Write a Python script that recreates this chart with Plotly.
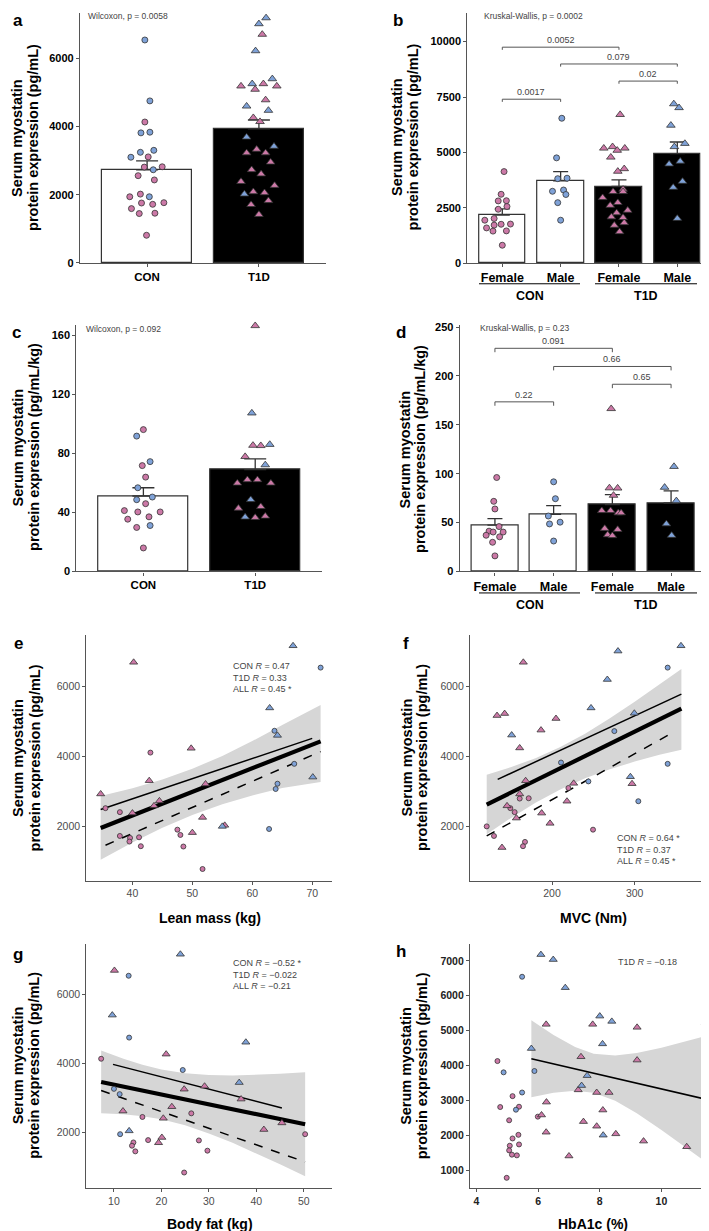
import plotly.graph_objects as go

W, H = 709, 1231
FONT = "Liberation Sans, Arial, sans-serif"
PINK = "#CC79A7"
BLUE = "#7FA2D8"
EDGE = "#333333"
AXIS = "#555555"

# ---------------- panels a / b : serum myostatin (pg/mL)
con_f = [4135, 3111, 2821, 2812, 2560, 2435, 2019, 1942, 1768, 1758, 1720, 1594, 1459, 1449, 812]
con_m = [6541, 4754, 3836, 3816, 3304, 3246, 3101, 2734, 1942]
t1d_f = [6705, 5256, 5188, 5188, 5092, 4783, 4261, 4145, 3333, 3227, 3227, 2957, 2734, 2609, 2387, 2271, 2087, 2058, 1826, 1710, 1420]
t1d_m = [7189, 7015, 6222, 5401, 5256, 4599, 4474, 3691, 3420, 2019]

# jitter offsets (category units)
a_jit_con_f = [-0.02, 0.01, 0.135, -0.025, -0.08, 0.065, -0.06, -0.155, 0.15, -0.05, 0.05, -0.14, 0.07, -0.07, -0.005]
a_jit_con_m = [-0.02, 0.025, 0.025, -0.055, 0.06, -0.06, -0.145, 0.055, 0.02]
a_jit_t1d_f = [0.03, 0.04, -0.16, 0.16, -0.034, 0.06, -0.05, 0.01, -0.02, -0.11, 0.06, 0.105, -0.065, 0.02, -0.16, 0.14, -0.05, 0.05, 0.085, -0.07, 0.0]
a_jit_t1d_m = [0.064, 0.0, -0.03, 0.12, -0.06, -0.11, 0.085, -0.11, 0.135, -0.13]
b_jit_con_f = [0.03, -0.02, 0.07, -0.07, 0.08, -0.07, -0.14, -0.3, 0.14, -0.02, -0.14, -0.27, 0.07, -0.16, 0.0]
b_jit_con_m = [0.02, -0.07, 0.11, -0.05, 0.05, -0.14, 0.09, -0.05, 0.0]
b_jit_t1d_f = [0.02, -0.11, -0.26, 0.1, -0.03, -0.14, 0.09, -0.02, 0.07, -0.1, 0.07, -0.28, -0.02, -0.15, 0.15, -0.04, -0.13, 0.07, 0.09, -0.08, 0.01]
b_jit_t1d_m = [-0.06, 0.03, -0.11, 0.13, -0.05, 0.05, -0.14, 0.09, -0.07, 0.0]

a_means = [2733, 3933]
a_se = [261, 261]
b_means = [2170, 3715, 3462, 4948]
b_se = [282, 416, 298, 521]
b_brackets = [(1, 2, 7400, "0.0017"), (1, 3, 9748, "0.0052"), (2, 4, 8990, "0.079"), (3, 4, 8218, "0.02")]

# ---------------- panels c / d : serum myostatin per kg (pg/mL/kg)
con_f_kg = [96.1, 71.7, 63.9, 45.9, 41.2, 40.3, 40.3, 37.0, 35.4, 29.8, 15.9]
con_m_kg = [91.7, 74.4, 56.7, 50.4, 48.6, 31.1]
t1d_f_kg = [166.5, 85.4, 85.2, 77.8, 62.1, 62.1, 59.8, 59.8, 43.9, 42.8, 37.4, 36.5]
t1d_m_kg = [107.3, 86.0, 72.2, 48.6, 36.8]

c_jit_con_f = [0.0, -0.01, 0.02, 0.02, -0.17, -0.05, 0.15, 0.05, -0.14, -0.06, 0.0]
c_jit_con_m = [-0.06, 0.06, -0.05, 0.08, -0.06, 0.06]
c_jit_t1d_f = [0.0, -0.02, 0.05, -0.09, -0.07, 0.02, -0.16, 0.14, 0.05, -0.15, 0.09, 0.0]
c_jit_t1d_m = [-0.03, 0.13, 0.09, -0.04, -0.09]
d_jit_con_f = [0.03, -0.02, 0.0, 0.07, -0.1, 0.14, -0.03, -0.15, 0.08, -0.04, 0.0]
d_jit_con_m = [0.0, 0.03, -0.09, 0.11, -0.07, 0.0]
d_jit_t1d_f = [-0.02, -0.05, 0.09, 0.02, -0.18, -0.03, 0.1, 0.15, -0.13, 0.09, -0.08, 0.0]
d_jit_t1d_m = [0.05, -0.11, 0.09, -0.08, 0.01]

c_means = [51.1, 69.0]
c_se = [5.6, 7.2]
d_means = [47.4, 58.5, 68.3, 70.0]
d_se = [6.7, 8.8, 10.2, 12.5]
d_brackets = [(1, 2, 173.5, "0.22"), (1, 3, 228.3, "0.091"), (2, 4, 209.7, "0.66"), (3, 4, 191.5, "0.65")]

# ---------------- panel e : lean mass
e_t1d_m_x = [66.8, 62.9, 64.2, 70.1, 55.0]
e_t1d_m_y = [7172, 5395, 4610, 3418, 2009]
e_t1d_f_x = [40.2, 49.8, 42.8, 52.2, 34.7, 44.5, 43.6, 40.0, 51.7, 55.4, 50.0]
e_t1d_f_y = [6700, 4241, 3315, 3220, 2936, 2738, 2596, 2388, 2265, 2038, 1830]
e_con_m_x = [71.4, 63.7, 67.0, 64.2, 63.9, 62.8]
e_con_m_y = [6548, 4742, 3797, 3229, 3078, 1934]
e_con_f_x = [35.5, 37.9, 43.0, 37.9, 39.6, 39.5, 41.1, 41.4, 47.5, 48.0, 48.5, 51.7]
e_con_f_y = [2530, 2416, 4118, 1735, 1679, 1575, 1697, 1442, 1915, 1764, 1433, 790]
e_all_x, e_all_y = [34.7, 71.4], [1962, 4440]
e_t1d_x, e_t1d_y = [34.7, 70.0], [2492, 4525]
e_con_x, e_con_y = [35.5, 71.4], [1470, 4147]
e_band_x = [34.7, 40, 45, 50, 55, 60, 65, 71.4]
e_band_hi = [2877, 3099, 3350, 3655, 4024, 4447, 4911, 5480]
e_band_lo = [1053, 1545, 1968, 2337, 2642, 2893, 3103, 3280]

# ---------------- panel f : MVC
f_t1d_m_x = [356.0, 279.8, 266.9, 247.2, 299.6, 151.2, 294.8]
f_t1d_m_y = [7172, 7021, 6208, 5395, 5243, 4619, 3428]
f_t1d_f_x = [165.3, 133.5, 142.7, 204.8, 186.7, 160.9, 168.1, 296.8, 226.2, 160.9, 145.6, 218.1, 187.5, 156.9, 197.6, 139.5]
f_t1d_f_y = [6700, 5177, 5234, 5092, 4761, 4251, 3314, 3229, 3239, 2936, 2596, 2728, 2388, 2246, 2095, 1404]
f_con_m_x = [339.9, 275.4, 210.9, 339.9, 244.0, 304.4]
f_con_m_y = [6548, 4733, 3834, 3797, 3295, 2728]
f_con_f_x = [160.9, 171.8, 219.8, 149.6, 154.8, 121.0, 129.8, 167.3, 164.9, 249.6]
f_con_f_y = [2804, 2813, 3106, 2530, 2416, 2009, 1735, 1565, 1442, 1915]
f_all_x, f_all_y = [121.0, 356.5], [2634, 5376]
f_t1d_x, f_t1d_y = [134.3, 356.5], [3352, 5792]
f_con_x, f_con_y = [121.0, 340.7], [1735, 4619]
f_band_x = [121, 150, 180, 210, 240, 270, 300, 330, 356.5]
f_band_hi = [3486, 3700, 3959, 4275, 4658, 5097, 5575, 6077, 6510]
f_band_lo = [1782, 2244, 2683, 3065, 3382, 3641, 3861, 4057, 4200]

# ---------------- panel g : body fat
g_t1d_m_x = [24.0, 9.65, 37.8, 36.4, 13.2]
g_t1d_m_y = [7173, 5404, 4615, 3442, 2038]
g_t1d_f_x = [10.1, 21.0, 24.8, 29.1, 36.8, 22.2, 11.9, 20.4, 20.1, 19.4, 41.6, 45.4]
g_t1d_f_y = [6702, 4269, 3250, 3336, 2962, 2740, 2615, 2404, 1846, 1692, 2077, 2269]
g_con_m_x = [13.1, 13.2, 24.5, 10.0, 11.2, 11.3]
g_con_m_y = [6548, 4750, 3808, 3260, 3106, 1942]
g_con_f_x = [7.3, 16.0, 26.3, 14.1, 17.2, 13.8, 14.5, 27.9, 29.7, 24.8, 50.3]
g_con_f_y = [4135, 2442, 2548, 1702, 1769, 1606, 1442, 1760, 1462, 827, 1942]
g_all_x, g_all_y = [7.3, 50.3], [3461, 2231]
g_t1d_x, g_t1d_y = [9.8, 45.4], [3971, 2702]
g_con_x, g_con_y = [7.3, 50.3], [3211, 1135]
g_band_x = [7.3, 12, 16, 20, 25, 30, 35, 40, 45, 50.3]
g_band_hi = [4375, 4132, 3958, 3823, 3712, 3659, 3648, 3664, 3697, 3745]
g_band_lo = [2547, 2521, 2466, 2373, 2198, 1965, 1690, 1388, 1069, 717]

# ---------------- panel h : HbA1c
h_t1d_m_x = [6.09, 6.49, 6.88, 8.0, 8.39, 8.09, 5.78, 7.59, 7.41, 8.11]
h_t1d_m_y = [7178, 7036, 6232, 5418, 5267, 4624, 4491, 3715, 3431, 2012]
h_t1d_f_x = [6.26, 7.77, 9.21, 11.42, 7.39, 9.21, 7.30, 7.90, 8.30, 6.27, 8.10, 6.11, 7.47, 7.90, 6.26, 8.52, 9.42, 10.82, 7.0]
h_t1d_f_y = [5182, 5182, 5097, 5239, 4255, 4160, 3308, 3233, 3233, 2958, 2731, 2589, 2400, 2268, 2097, 2050, 1842, 1681, 1416]
h_con_m_x = [5.48, 4.88, 5.88, 5.48, 5.28]
h_con_m_y = [6544, 3810, 3848, 3233, 2741]
h_con_f_x = [4.68, 5.17, 4.77, 5.38, 5.99, 5.06, 5.36, 5.17, 5.08, 5.38, 5.06, 5.15, 5.31, 4.98]
h_con_f_y = [4132, 3129, 2817, 2826, 2542, 2438, 2022, 1918, 1710, 1747, 1577, 1454, 1435, 792]
h_t1d_x, h_t1d_y = [5.78, 11.42], [4198, 3044]
h_band_x = [5.78, 6.5, 7.2, 7.8, 8.5, 9.2, 10, 10.7, 11.42]
h_band_hi = [5300, 4878, 4532, 4341, 4289, 4362, 4511, 4667, 4845]
h_band_lo = [3096, 3224, 3284, 3229, 2995, 2636, 2159, 1717, 1260]


def px(x):
    return x / W


def py(y):
    return 1 - y / H


def names(n):
    s = "" if n == 1 else str(n)
    return "x" + s, "y" + s


fig = go.Figure()


def set_axes(n, xdom, ydom, xr, yr, xtv, ytv, xtt=None, xfont=None, yfont=None):
    xs, ys = names(n)
    base = dict(showline=True, linecolor=AXIS, linewidth=1.2, ticks="outside", ticklen=3,
                tickcolor=AXIS, tickwidth=1, showgrid=False, zeroline=False)
    fig.update_layout({
        "xaxis" + xs[1:]: dict(base, domain=[px(xdom[0]), px(xdom[1])], range=xr, anchor=ys,
                               tickmode="array", tickvals=xtv,
                               ticktext=xtt if xtt else [str(v) for v in xtv], tickfont=xfont),
        "yaxis" + ys[1:]: dict(base, domain=[py(ydom[1]), py(ydom[0])], range=yr, anchor=xs,
                               tickmode="array", tickvals=ytv, ticktext=[str(v) for v in ytv],
                               tickfont=yfont),
    })


def bars(n, means, ses, fills, cap):
    xs, ys = names(n)
    fig.add_trace(go.Bar(
        x=list(range(1, len(means) + 1)), y=means, width=0.8,
        marker=dict(color=fills, line=dict(color=EDGE, width=1.2)),
        error_y=dict(type="data", symmetric=False, array=ses, arrayminus=[0] * len(ses),
                     color=EDGE, thickness=1.3, width=cap),
        xaxis=xs, yaxis=ys, showlegend=False, hoverinfo="skip"))


def dots(n, xv, yv, color, symbol, size):
    xs, ys = names(n)
    fig.add_trace(go.Scatter(
        x=xv, y=yv, mode="markers", cliponaxis=False,
        marker=dict(color=color, symbol=symbol, size=size, line=dict(color=EDGE, width=0.8)),
        xaxis=xs, yaxis=ys, showlegend=False, hoverinfo="skip"))


def jit(cat, offsets):
    return [cat + o for o in offsets]


def line(n, xv, yv, width, dash="solid"):
    xs, ys = names(n)
    fig.add_trace(go.Scatter(x=xv, y=yv, mode="lines", line=dict(color="black", width=width, dash=dash),
                             xaxis=xs, yaxis=ys, showlegend=False, hoverinfo="skip"))


def band(n, xv, hi, lo):
    xs, ys = names(n)
    fig.add_trace(go.Scatter(x=xv + xv[::-1], y=hi + lo[::-1], mode="lines", fill="toself",
                             fillcolor="#D6D6D6", line=dict(width=0),
                             xaxis=xs, yaxis=ys, showlegend=False, hoverinfo="skip"))


bold_tick = dict(family=FONT, size=11, color="black", weight="bold")
bold_cat = dict(family=FONT, size=12.5, color="black", weight="bold")
reg = dict(family=FONT, size=10.5, color="#4D4D4D")
boldh = dict(family=FONT, size=10.5, color="#222222", weight="bold")

CS, TS = 6, 7.5      # bar-panel marker sizes
CS2, TS2 = 5, 7      # scatter-panel marker sizes

# ---- a
bars(1, a_means, a_se, ["white", "black"], 11)
dots(1, jit(1, a_jit_con_f), con_f, PINK, "circle", CS)
dots(1, jit(1, a_jit_con_m), con_m, BLUE, "circle", CS)
dots(1, jit(2, a_jit_t1d_f), t1d_f, PINK, "triangle-up", TS)
dots(1, jit(2, a_jit_t1d_m), t1d_m, BLUE, "triangle-up", TS)
set_axes(1, (72, 318), (1, 253), [0.4, 2.6], [0, 7333], [1, 2], [0, 2000, 4000, 6000],
         ["CON", "T1D"], dict(bold_tick, size=11.5), bold_tick)

# ---- b
bars(2, b_means, b_se, ["white", "white", "black", "black"], 7.5)
dots(2, jit(1, b_jit_con_f), con_f, PINK, "circle", CS)
dots(2, jit(2, b_jit_con_m), con_m, BLUE, "circle", CS)
dots(2, jit(3, b_jit_t1d_f), t1d_f, PINK, "triangle-up", TS)
dots(2, jit(4, b_jit_t1d_m), t1d_m, BLUE, "triangle-up", TS)
set_axes(2, (459.3, 704.3), (1, 253.3), [0.4, 4.6], [0, 11290], [1, 2, 3, 4],
         [0, 2500, 5000, 7500, 10000], ["Female", "Male", "Female", "Male"], bold_cat, bold_tick)

# ---- c
bars(3, c_means, c_se, ["white", "black"], 11)
dots(3, jit(1, c_jit_con_f), con_f_kg, PINK, "circle", CS)
dots(3, jit(1, c_jit_con_m), con_m_kg, BLUE, "circle", CS)
dots(3, jit(2, c_jit_t1d_f), t1d_f_kg, PINK, "triangle-up", TS)
dots(3, jit(2, c_jit_t1d_m), t1d_m_kg, BLUE, "triangle-up", TS)
set_axes(3, (68.3, 314.3), (316, 564), [0.4, 2.6], [0, 166.7], [1, 2], [0, 40, 80, 120, 160],
         ["CON", "T1D"], dict(bold_tick, size=11.5), bold_tick)

# ---- d
bars(4, d_means, d_se, ["white", "white", "black", "black"], 7.5)
dots(4, jit(1, d_jit_con_f), con_f_kg, PINK, "circle", CS)
dots(4, jit(2, d_jit_con_m), con_m_kg, BLUE, "circle", CS)
dots(4, jit(3, d_jit_t1d_f), t1d_f_kg, PINK, "triangle-up", TS)
dots(4, jit(4, d_jit_t1d_m), t1d_m_kg, BLUE, "triangle-up", TS)
set_axes(4, (451.7, 698.3), (316, 564), [0.4, 4.6], [0, 251.7], [1, 2, 3, 4],
         [0, 50, 100, 150, 200, 250], ["Female", "Male", "Female", "Male"], bold_cat, bold_tick)

# ---- e..h scatter panels
scatter_panels = [
    (5, e_band_x, e_band_hi, e_band_lo, [(e_all_x, e_all_y, 4.2, "solid"), (e_t1d_x, e_t1d_y, 1.5, "solid"), (e_con_x, e_con_y, 1.5, "dash")],
     (e_con_f_x, e_con_f_y), (e_con_m_x, e_con_m_y), (e_t1d_f_x, e_t1d_f_y), (e_t1d_m_x, e_t1d_m_y)),
    (6, f_band_x, f_band_hi, f_band_lo, [(f_all_x, f_all_y, 4.2, "solid"), (f_t1d_x, f_t1d_y, 1.5, "solid"), (f_con_x, f_con_y, 1.5, "dash")],
     (f_con_f_x, f_con_f_y), (f_con_m_x, f_con_m_y), (f_t1d_f_x, f_t1d_f_y), (f_t1d_m_x, f_t1d_m_y)),
    (7, g_band_x, g_band_hi, g_band_lo, [(g_all_x, g_all_y, 4.2, "solid"), (g_t1d_x, g_t1d_y, 1.5, "solid"), (g_con_x, g_con_y, 1.5, "dash")],
     (g_con_f_x, g_con_f_y), (g_con_m_x, g_con_m_y), (g_t1d_f_x, g_t1d_f_y), (g_t1d_m_x, g_t1d_m_y)),
    (8, h_band_x, h_band_hi, h_band_lo, [(h_t1d_x, h_t1d_y, 1.5, "solid")],
     (h_con_f_x, h_con_f_y), (h_con_m_x, h_con_m_y), (h_t1d_f_x, h_t1d_f_y), (h_t1d_m_x, h_t1d_m_y)),
]
for n, bx, bhi, blo, fits, cf, cm, tf, tm in scatter_panels:
    band(n, bx, bhi, blo)
    for lx, ly, lw, ld in fits:
        line(n, lx, ly, lw, ld)
    dots(n, cf[0], cf[1], PINK, "circle", CS2)
    dots(n, cm[0], cm[1], BLUE, "circle", CS2)
    dots(n, tf[0], tf[1], PINK, "triangle-up", TS2)
    dots(n, tm[0], tm[1], BLUE, "triangle-up", TS2)

set_axes(5, (78.3, 324), (628.3, 875.7), [32.3, 73.3], [459, 7475], [40, 50, 60, 70], [2000, 4000, 6000],
         None, reg, reg)
set_axes(6, (462, 707.7), (628.3, 875.7), [100.8, 398], [459, 7475], [200, 300], [2000, 4000, 6000],
         None, reg, reg)
set_axes(7, (78.3, 324), (940, 1185.7), [4.17, 55.96], [375, 7461], [10, 20, 30, 40, 50], [2000, 4000, 6000],
         None, reg, reg)
set_axes(8, (462, 707.7), (940, 1185.7), [3.79, 11.76], [499, 7471], [4, 6, 8, 10],
         [1000, 2000, 3000, 4000, 5000, 6000, 7000], None, boldh, boldh)

# ---- annotations and shapes
ann = []
shapes = []


def text(x, y, s, size, color="black", xanchor="center", yanchor="middle", angle=0, xref="paper", yref="paper", bold=False):
    ann.append(dict(x=x, y=y, xref=xref, yref=yref, text=s, showarrow=False, textangle=angle,
                    xanchor=xanchor, yanchor=yanchor, align="left",
                    font=dict(family=FONT, size=size, color=color, weight="bold" if bold else "normal")))


# y titles: two rotated lines each (tight ggplot line spacing)
unit_plain = "protein expression (pg/mL)"
unit_kg = "protein expression (pg/mL/kg)"
for x1, x2, cy, s in [(9, 25, 127, unit_plain), (389, 404.5, 126, unit_plain),
                      (10, 26.5, 439, unit_kg), (397, 412.5, 441, unit_kg),
                      (10, 26.5, 752, unit_plain), (398.5, 414, 752, unit_plain),
                      (10, 26.5, 1062, unit_plain), (398.5, 414, 1063, unit_plain)]:
    text(px(x1), py(cy), "Serum myostatin", 14.5, bold=True, angle=-90)
    text(px(x2), py(cy), s, 14.5, bold=True, angle=-90)

for lx, ly, s in [(10, 9, "a"), (390, 9, "b"), (8, 323, "c"), (393, 323, "d"),
                  (10, 637, "e"), (398, 637, "f"), (10, 950, "g"), (393, 947, "h")]:
    text(px(lx), py(ly), s, 17, bold=True)

for lx, ly, s in [(78, 4, "Wilcoxon, p = 0.0058"), (474, 4, "Kruskal-Wallis, p = 0.0002"),
                  (76, 320, "Wilcoxon, p = 0.092"), (470, 319, "Kruskal-Wallis, p = 0.23")]:
    text(px(lx), py(ly), s, 8.5, "#444444", xanchor="left")

for cx, cy, s in [(201.7, 913, "Lean mass (kg)"), (585, 913, "MVC (Nm)"),
                  (201.7, 1222, "Body fat (kg)"), (585, 1222, "HbA1c (%)")]:
    text(px(cx), py(cy), s, 14, bold=True)

R = "<i>R</i>"
text(px(223), py(652), f"CON {R} = 0.47<br>T1D {R} = 0.33<br>ALL {R} = 0.45 *", 9, "#444444", "left", "top")
text(px(607), py(826), f"CON {R} = 0.64 *<br>T1D {R} = 0.37<br>ALL {R} = 0.45 *", 9, "#444444", "left", "top")
text(px(223), py(952), f"CON {R} = \u22120.52 *<br>T1D {R} = \u22120.022<br>ALL {R} = \u22120.21", 9, "#444444", "left", "top")
text(px(608), py(958), f"T1D {R} = \u22120.18", 9, "#444444", "left", "middle")

# sex / group labels under b and d
for y_line, y_lab in [(274, 286), (585.7, 597.7)]:
    for x0, x1, s in [(471, 572, "CON"), (587, 689, "T1D")]:
        shapes.append(dict(type="line", xref="paper", yref="paper", x0=px(x0), x1=px(x1),
                           y0=py(y_line), y1=py(y_line), line=dict(color="black", width=1)))
        text(px((x0 + x1) / 2), py(y_lab), s, 12.5, bold=True)

# pairwise brackets
for n, brs, tip in [(2, b_brackets, 120), (4, d_brackets, 4)]:
    xs, ys = names(n)
    for x0, x1, yv, lab in brs:
        shapes.append(dict(type="path", xref=xs, yref=ys, line=dict(color=AXIS, width=1),
                           path=f"M {x0},{yv - tip} L {x0},{yv} L {x1},{yv} L {x1},{yv - tip}"))
        text((x0 + x1) / 2, yv, lab, 9, "#444444", yanchor="bottom", xref=xs, yref=ys)

fig.update_layout(
    annotations=ann, shapes=shapes,
    width=W, height=H, margin=dict(l=0, r=0, t=0, b=0),
    plot_bgcolor="white", paper_bgcolor="white",
    font=dict(family=FONT), bargap=0, showlegend=False,
)

fig.write_html("out.html")
